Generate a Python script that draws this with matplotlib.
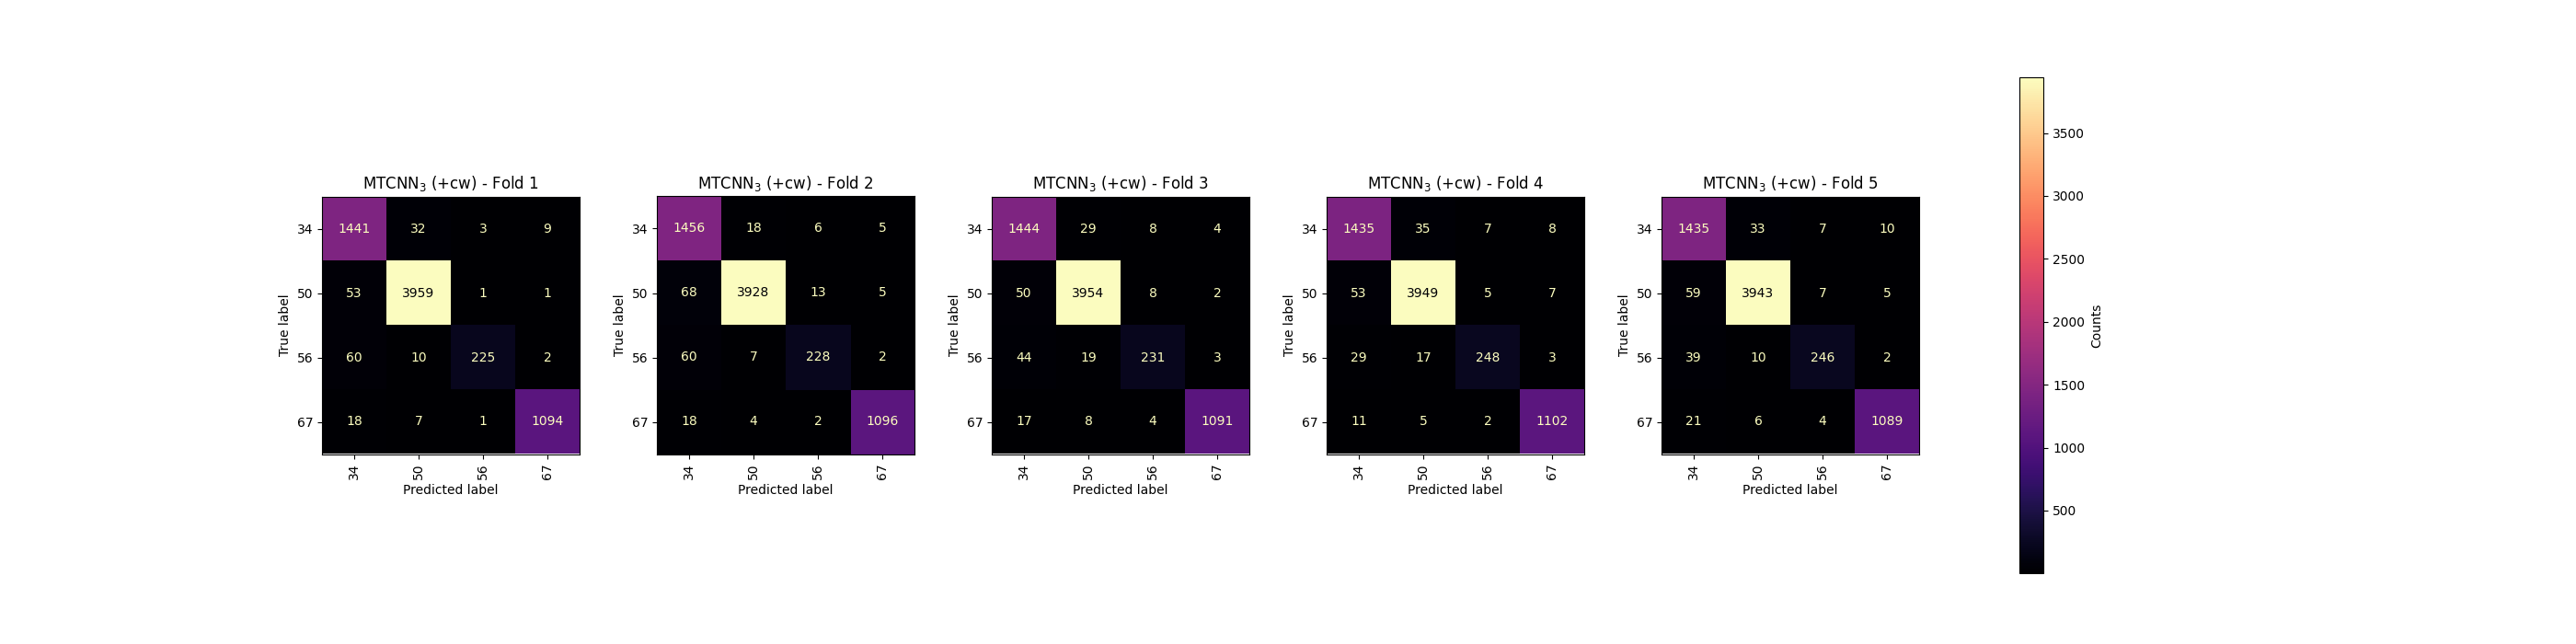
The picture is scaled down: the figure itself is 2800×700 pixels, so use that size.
import numpy as np
import matplotlib
matplotlib.use("Agg")
import matplotlib.pyplot as plt

class_labels = ["34", "50", "56", "67"]
fold_names = ["Fold 1", "Fold 2", "Fold 3", "Fold 4", "Fold 5"]

fold1 = [[1441, 32, 3, 9], [53, 3959, 1, 1], [60, 10, 225, 2], [18, 7, 1, 1094]]
fold2 = [[1456, 18, 6, 5], [68, 3928, 13, 5], [60, 7, 228, 2], [18, 4, 2, 1096]]
fold3 = [[1444, 29, 8, 4], [50, 3954, 8, 2], [44, 19, 231, 3], [17, 8, 4, 1091]]
fold4 = [[1435, 35, 7, 8], [53, 3949, 5, 7], [29, 17, 248, 3], [11, 5, 2, 1102]]
fold5 = [[1435, 33, 7, 10], [59, 3943, 7, 5], [39, 10, 246, 2], [21, 6, 4, 1089]]
folds = [fold1, fold2, fold3, fold4, fold5]

cmap = plt.get_cmap("magma")
fig, axes = plt.subplots(1, 5, figsize=(28, 7), dpi=100,
                         gridspec_kw={"wspace": 0.3})
im = None
for ax, cm, name in zip(axes, folds, fold_names):
    cm = np.array(cm)
    im = ax.imshow(cm, interpolation="nearest", cmap=cmap)
    cmin, cmax = cm.min(), cm.max()
    thresh = (cmax + cmin) / 2.0
    for i in range(cm.shape[0]):
        for j in range(cm.shape[1]):
            color = cmap(0) if cm[i, j] >= thresh else cmap(256)
            ax.text(j, i, format(cm[i, j], "d"), ha="center", va="center", color=color)
    n = len(class_labels)
    ax.set_xticks(np.arange(n))
    ax.set_yticks(np.arange(n))
    ax.set_xticklabels(class_labels, rotation="vertical")
    ax.set_yticklabels(class_labels)
    ax.set_xlabel("Predicted label")
    ax.set_ylabel("True label")
    ax.set_ylim((n - 0.5, -0.5))
    ax.set_title(r"MTCNN$_3$ (+cw) - " + name)

fig.colorbar(im, ax=axes, label="Counts")
fig.savefig("out.png", dpi=100)
